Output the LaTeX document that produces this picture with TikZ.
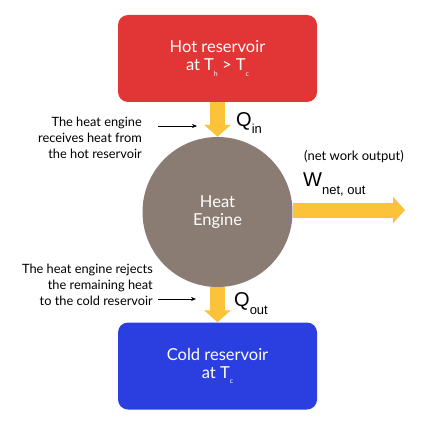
\documentclass[tikz,border=0pt]{standalone}
\usepackage{fontspec}
\setmainfont{Lato}
\newfontfamily\qfont{Liberation Sans}
\usetikzlibrary{arrows.meta}
\definecolor{hotred}{HTML}{E23535}
\definecolor{coldblue}{HTML}{2B3FE0}
\definecolor{enginebrown}{HTML}{8A7C72}
\definecolor{flowyellow}{HTML}{FCC23A}
\newcommand{\mysub}[1]{\raisebox{-0.7ex}{\scriptsize #1}}
\newcommand{\qsub}[1]{\raisebox{-0.75ex}{\fontsize{13}{13}\selectfont #1}}
\tikzset{
  reservoir/.style={rounded corners=10pt, minimum width=199pt, minimum height=87pt, text=white, align=center, font=\fontsize{16.5}{18}\selectfont, inner sep=0pt},
  flow/.style={draw=flowyellow, line width=15pt, -{Triangle[length=12pt,width=26pt]}},
  note/.style={align=right, font=\fontsize{12.8}{16}\selectfont, inner sep=0pt},
  pointer/.style={draw=black, line width=0.6pt, -{Stealth[length=5pt,width=4pt]}},
  qlabel/.style={font=\qfont\fontsize{20}{20}\selectfont, inner sep=0pt, anchor=west}
}
\begin{document}
\begin{tikzpicture}[x=1pt,y=-1pt]
\useasboundingbox (0,0) rectangle (425,425);
\fill[white] (0,0) rectangle (425,425);
\node[reservoir, fill=hotred] (hot) at (217.5,58.5) {Hot reservoir\\at T\mysub{h} > T\mysub{c}};
\node[reservoir, fill=coldblue] (cold) at (217.5,366) {Cold reservoir\\at T\mysub{c}};
\node[circle, fill=enginebrown, minimum size=150pt, inner sep=0pt, text=white, align=center, font=\fontsize{16.5}{18}\selectfont] (engine) at (217.5,212) {Heat\\Engine};
\draw[flow] (hot.south) -- (engine.north);
\draw[flow] (engine.south) -- (cold.north);
\coordinate (wend) at (405,210);
\draw[flow] (engine.east |- wend) -- (wend);
\node[qlabel] (qin) at (236,123) {Q\qsub{in}};
\node[qlabel] (qout) at (234,304) {Q\qsub{out}};
\node[qlabel] (w) at (303,184) {W\qsub{net, out}};
\node[font=\fontsize{13}{13}\selectfont, inner sep=0pt] (netlab) at (354,157) {(net work output)};
\node[note, anchor=east] (recv) at (142,138) {The heat engine\\receives heat from\\the hot reservoir};
\node[note, anchor=east] (rej) at (153,285) {The heat engine rejects\\the remaining heat\\to the cold reservoir};
\coordinate (p1a) at (158,126);
\coordinate (p1b) at (197,126);
\coordinate (p2a) at (158,299);
\coordinate (p2b) at (196,299);
\draw[pointer] (p1a) -- (p1b);
\draw[pointer] (p2a) -- (p2b);
\end{tikzpicture}
\end{document}
